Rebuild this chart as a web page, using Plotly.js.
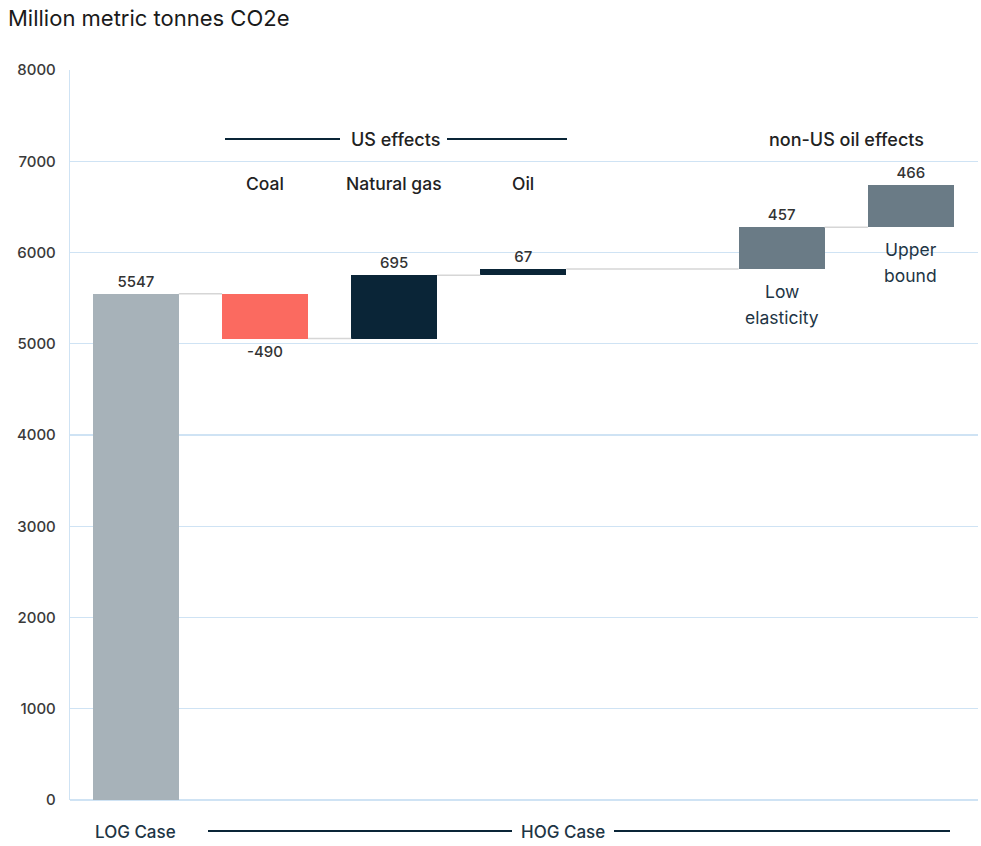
<!DOCTYPE html>
<html><head><meta charset="utf-8">
<script src="https://cdn.plot.ly/plotly-3.0.1.min.js"></script>
<style>body{margin:0;background:#fff}#chart{width:981px;height:846px}</style>
</head><body><div id="chart"></div>
<script>
// ---- data ----
const categories = ['LOG Case', 'Coal', 'Natural gas', 'Oil', 'Low elasticity', 'Upper bound'];
const values = [5547, -490, 695, 67, 457, 466];
const measures = ['absolute', 'relative', 'relative', 'relative', 'relative', 'relative'];
const barColors = ['#a7b2b9', '#fb6a60', '#0a2537', '#0a2537', '#6a7b86', '#6a7b86'];
const yTicks = [0, 1000, 2000, 3000, 4000, 5000, 6000, 7000, 8000];
const usLabels = ['Coal', 'Natural gas', 'Oil'];
const nonUsLabels = ['Low elasticity', 'Upper bound'];
const groupHeaders = ['US effects', 'non-US oil effects'];
const caseLabels = ['LOG Case', 'HOG Case'];
const yTitle = 'Million metric tonnes CO2e';

// ---- layout helpers ----
const slot = i => (i < 4 ? i : i + 1);   // leave an empty slot before non-US bars
const xs = categories.map((c, i) => slot(i));
const bases = [];
let run = 0;
values.forEach((v, i) => {
  if (measures[i] === 'absolute') { bases.push(0); run = v; }
  else { bases.push(run); run += v; }
});
const ends = values.map((v, i) => bases[i] + v);
const W = 0.665;
const FONT = 'Inter, "Noto Sans", sans-serif';

const traces = [];
// connectors
for (let i = 0; i < values.length - 1; i++) {
  traces.push({
    type: 'scatter', mode: 'lines',
    x: [xs[i] + W / 2, xs[i + 1] - W / 2], y: [ends[i], ends[i]],
    line: { color: '#d6d6d6', width: 1.5 },
    hoverinfo: 'skip', showlegend: false
  });
}
traces.push({
  type: 'bar', x: xs, y: values, base: bases, width: W,
  marker: { color: barColors, line: { width: 0 } },
  text: values.map(String), textposition: 'outside', constraintext: 'none',
  textfont: { family: FONT, size: 15, color: '#333', weight: 500 },
  cliponaxis: false, hovertext: categories, showlegend: false
});

const px2p = p => (800 - p) / 730;   // vertical pixel -> paper
const pxX = p => (p - 70) / 908;     // horizontal pixel -> paper

const ann = (o) => Object.assign({ showarrow: false, xanchor: 'center', yanchor: 'middle' }, o);
const annotations = [];
usLabels.forEach(lbl => {
  const i = categories.indexOf(lbl);
  annotations.push(ann({ x: xs[i], xref: 'x', y: px2p(183), yref: 'paper', text: lbl,
    font: { family: FONT, size: 17.5, color: '#222', weight: 500 } }));
});
nonUsLabels.forEach(lbl => {
  const i = categories.indexOf(lbl);
  lbl.split(' ').forEach((w, k) => {
    annotations.push(ann({ x: xs[i], xref: 'x', y: bases[i], yref: 'y', yshift: -22 - 26 * k,
      text: w, font: { family: FONT, size: 17.5, color: '#1e3545' } }));
  });
});
annotations.push(ann({ x: pxX(395), xref: 'paper', y: px2p(139), yref: 'paper', text: groupHeaders[0],
  font: { family: FONT, size: 18, color: '#222', weight: 500 } }));
annotations.push(ann({ x: pxX(846), xref: 'paper', y: px2p(139), yref: 'paper', text: groupHeaders[1],
  font: { family: FONT, size: 18, color: '#222', weight: 500 } }));
annotations.push(ann({ x: xs[0], xref: 'x', y: px2p(832), yref: 'paper', text: caseLabels[0],
  font: { family: FONT, size: 17, color: '#1e3545', weight: 500 } }));
annotations.push(ann({ x: pxX(563), xref: 'paper', y: px2p(832), yref: 'paper', text: caseLabels[1],
  font: { family: FONT, size: 17, color: '#1e3545', weight: 500 } }));

const hl = (x0, x1, y) => ({ type: 'line', xref: 'paper', yref: 'paper', x0: pxX(x0), x1: pxX(x1), y0: px2p(y), y1: px2p(y),
  line: { color: '#0a2537', width: 1.8 } });
const shapes = [hl(225, 340, 139), hl(447, 567, 139), hl(208, 512, 831), hl(614, 950, 831)];

const layout = {
  width: 981, height: 846,
  margin: { l: 70, r: 3, t: 70, b: 46 },
  paper_bgcolor: '#fff', plot_bgcolor: '#fff',
  title: { text: yTitle, x: 8 / 981, xanchor: 'left', xref: 'container', y: 1 - 18 / 846, yref: 'container', yanchor: 'middle',
    font: { family: FONT, size: 22, color: '#1a1a1a' } },
  xaxis: { range: [-0.51, 6.52], showticklabels: false, showgrid: false, zeroline: false, showline: false, fixedrange: true },
  yaxis: { range: [0, 8000], tickvals: yTicks, ticktext: yTicks.map(String), showgrid: true, gridcolor: '#cfe3f4', gridwidth: 1.2,
    zeroline: true, zerolinecolor: '#cfe3f4', zerolinewidth: 1.2, showline: true, linecolor: '#cfe3f4', linewidth: 1.2,
    ticks: '', ticklabelstandoff: 10, tickfont: { family: FONT, size: 15, color: '#3a3a3a', weight: 500 } },
  annotations, shapes, bargap: 0
};
Plotly.newPlot('chart', traces, layout, { displayModeBar: false, staticPlot: true });
</script></body></html>
